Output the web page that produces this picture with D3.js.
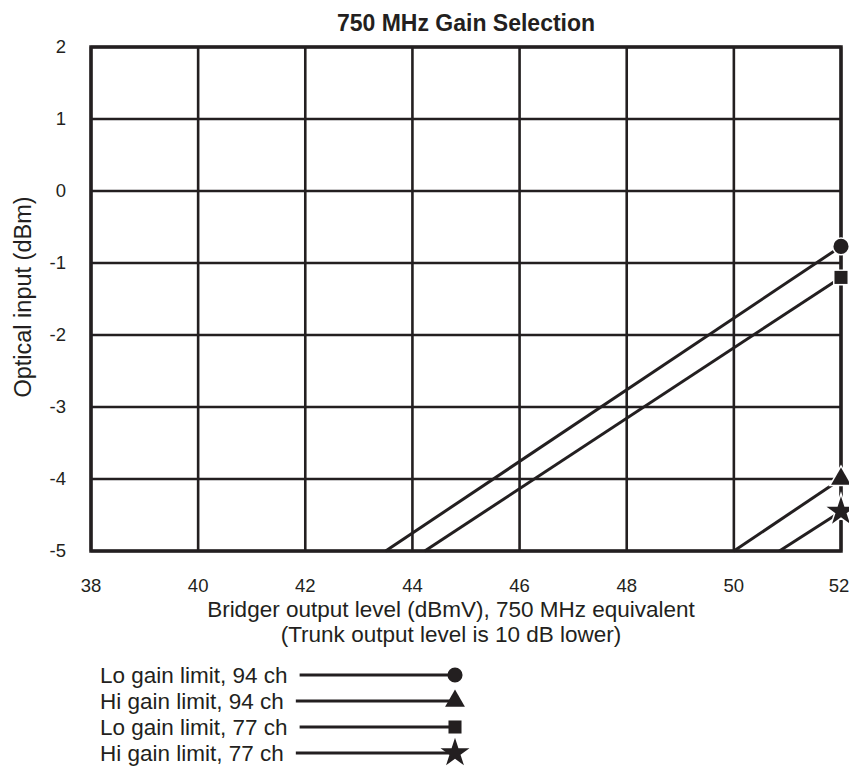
<!DOCTYPE html>
<html>
<head>
<meta charset="utf-8">
<script src="https://cdn.jsdelivr.net/npm/d3@7"></script>
<style>
  body { margin: 0; background: #fff; }
  svg { font-family: "Liberation Sans", Arial, sans-serif; }
  .tick-label { font-size: 18.5px; fill: #231f20; }
  .axis-title { font-size: 22.5px; fill: #231f20; }
  .legend-label { font-size: 22.5px; fill: #231f20; }
</style>
</head>
<body>
<div class="chart"></div>
<script>
// tick values on each axis
const xTicks = [38, 40, 42, 44, 46, 48, 50, 52];
const yTicks = [2, 1, 0, -1, -2, -3, -4, -5];

// series names, marker shapes and their end points (bridger level, optical input)
const seriesNames = ["Lo gain limit, 94 ch", "Hi gain limit, 94 ch", "Lo gain limit, 77 ch", "Hi gain limit, 77 ch"];
const seriesMarkers = ["circle", "triangle", "square", "star"];
const seriesX = [[43.5, 52], [50.0, 52], [44.23, 52], [50.85, 52]];
const seriesY = [[-5, -0.77], [-5, -4.0], [-5, -1.2], [-5, -4.45]];

const ink = "#231f20";

const svg = d3.select(".chart")
  .append("svg")
  .attr("width", 849)
  .attr("height", 768);

const margin = { top: 47, right: 8, bottom: 217, left: 91 };
const width = 849 - margin.left - margin.right;
const height = 768 - margin.top - margin.bottom;

const xScale = d3.scaleLinear().domain([38, 52]).range([0, width]);
const yScale = d3.scaleLinear().domain([-5, 2]).range([height, 0]);

const chart = svg.append("g")
  .attr("transform", `translate(${margin.left},${margin.top})`);

// grid
chart.selectAll("line.vgrid")
  .data(xTicks)
  .join("line")
  .attr("class", "vgrid")
  .attr("x1", d => xScale(d)).attr("x2", d => xScale(d))
  .attr("y1", 0).attr("y2", height)
  .attr("stroke", ink).attr("stroke-width", 2.6);

chart.selectAll("line.hgrid")
  .data(yTicks)
  .join("line")
  .attr("class", "hgrid")
  .attr("x1", 0).attr("x2", width)
  .attr("y1", d => yScale(d)).attr("y2", d => yScale(d))
  .attr("stroke", ink).attr("stroke-width", 2.6);

// frame
chart.append("rect")
  .attr("width", width).attr("height", height)
  .attr("fill", "none").attr("stroke", ink).attr("stroke-width", 3.5);

// tick labels (the last one is nudged in so it stays on the page)
chart.selectAll("text.xtick")
  .data(xTicks)
  .join("text")
  .attr("class", "tick-label")
  .attr("x", d => Math.min(xScale(d), width - 2))
  .attr("y", height + 41)
  .attr("text-anchor", "middle")
  .text(d => d);

chart.selectAll("text.ytick")
  .data(yTicks)
  .join("text")
  .attr("class", "tick-label")
  .attr("x", -25)
  .attr("y", d => yScale(d) + 6)
  .attr("text-anchor", "end")
  .text(d => d);

// titles
svg.append("text")
  .attr("x", margin.left + width / 2)
  .attr("y", 31)
  .attr("text-anchor", "middle")
  .attr("font-size", 23)
  .attr("font-weight", "bold")
  .attr("fill", ink)
  .text("750 MHz Gain Selection");

chart.append("text")
  .attr("class", "axis-title")
  .attr("x", 360)
  .attr("y", height + 66)
  .attr("text-anchor", "middle")
  .text("Bridger output level (dBmV), 750 MHz equivalent");

chart.append("text")
  .attr("class", "axis-title")
  .attr("x", 360)
  .attr("y", height + 91)
  .attr("text-anchor", "middle")
  .text("(Trunk output level is 10 dB lower)");

svg.append("text")
  .attr("class", "axis-title")
  .attr("font-size", 23)
  .attr("transform", `translate(31,${yScale(-1.5) + margin.top - 2}) rotate(-90)`)
  .attr("text-anchor", "middle")
  .style("font-size", "23.5px")
  .text("Optical input (dBm)");

// marker shapes
const symbolFor = {
  circle: d3.symbol(d3.symbolCircle, 180),
  triangle: d3.symbol(d3.symbolTriangle, 170),
  square: d3.symbol(d3.symbolSquare, 170),
  star: d3.symbol(d3.symbolStar, 260)
};

// series lines
const series = seriesNames.map((name, i) => ({
  name: name,
  marker: seriesMarkers[i],
  points: seriesX[i].map((x, j) => [x, seriesY[i][j]])
}));

const line = d3.line()
  .x(d => xScale(d[0]))
  .y(d => yScale(d[1]));

chart.selectAll("path.series")
  .data(series)
  .join("path")
  .attr("class", "series")
  .attr("d", d => line(d.points))
  .attr("fill", "none")
  .attr("stroke", ink)
  .attr("stroke-width", 3);

chart.selectAll("path.marker")
  .data(series)
  .join("path")
  .attr("class", "marker")
  .attr("d", d => symbolFor[d.marker]())
  .attr("transform", d => {
    const p = d.points[d.points.length - 1];
    return `translate(${xScale(p[0])},${yScale(p[1])})`;
  })
  .attr("fill", ink)
  .attr("stroke", "#fff")
  .attr("stroke-width", 3)
  .attr("paint-order", "stroke");

// legend
const legend = svg.append("g")
  .attr("transform", "translate(100,675)");

const rows = legend.selectAll("g.row")
  .data(series)
  .join("g")
  .attr("class", "row")
  .attr("transform", (d, i) => `translate(0,${i * 26})`);

rows.append("text")
  .attr("class", "legend-label")
  .attr("y", 8)
  .text(d => d.name);

rows.each(function(d) {
  const w = this.querySelector("text").getComputedTextLength();
  d3.select(this).append("line")
    .attr("x1", w + 12).attr("x2", 352)
    .attr("stroke", ink).attr("stroke-width", 3);
});

rows.append("path")
  .attr("d", d => symbolFor[d.marker]())
  .attr("transform", "translate(355,0)")
  .attr("fill", ink);
</script>
</body>
</html>
